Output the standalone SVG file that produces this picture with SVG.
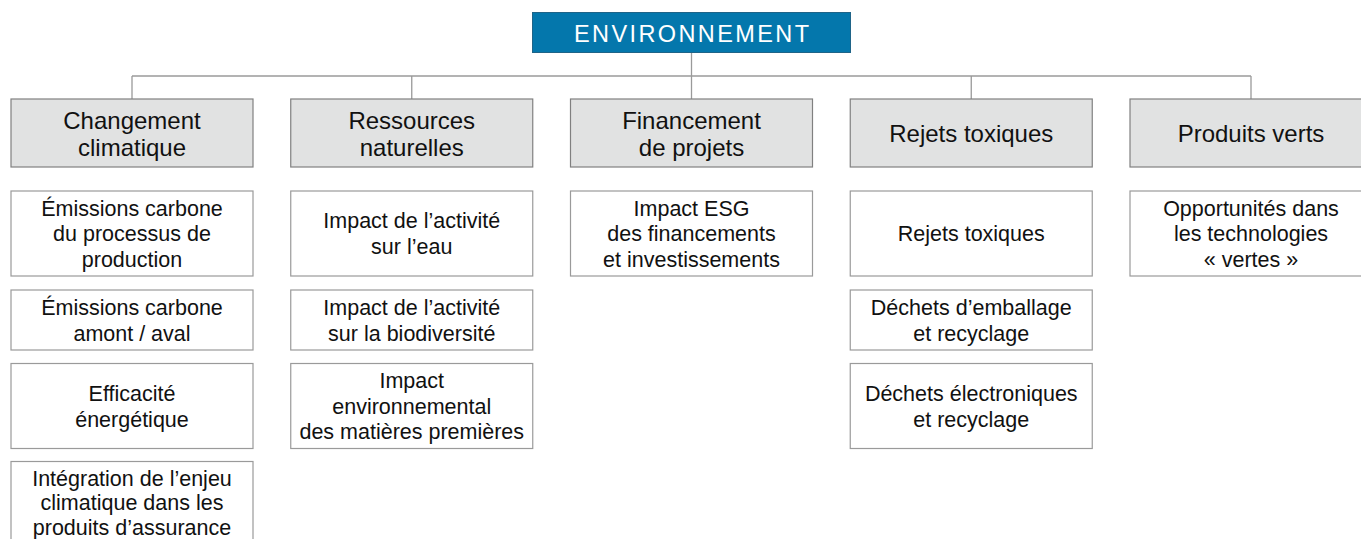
<svg xmlns="http://www.w3.org/2000/svg" width="1361" height="539" viewBox="0 0 1361 539">
<style>
.root{fill:#0477ac;stroke:#1f6488;stroke-width:1}
.cat{fill:#e1e2e2;stroke:#808080;stroke-width:1.2}
.item{fill:#ffffff;stroke:#9a9a9a;stroke-width:1.2}
.conn{fill:none;stroke:#9a9a9a;stroke-width:1.3}
text{font-family:"Liberation Sans",Arial,Helvetica,sans-serif;text-anchor:middle;fill:#111111}
.rt{font-size:23.5px;fill:#ffffff;letter-spacing:2.4px}
.ct{font-size:24px}
.it{font-size:21.5px}
</style>
<rect width="1361" height="539" fill="#ffffff"/>
<g id="connectors">
<path class="conn" d="M691.5 53V76M132 76H1251M132 76V99M411.75 76V99M691.5 76V99M971.25 76V99M1251 76V99"/>
</g>
<g id="root">
<rect class="root" x="532.5" y="12.5" width="318" height="40"/>
<text class="rt" x="692.7" y="41.7">ENVIRONNEMENT</text>
</g>
<g id="cat-changement">
<rect class="cat" x="11" y="99" width="242" height="68"/>
<text class="ct" x="132" y="128.5">Changement</text>
<text class="ct" x="132" y="156">climatique</text>
</g>
<g id="cat-ressources">
<rect class="cat" x="290.75" y="99" width="242" height="68"/>
<text class="ct" x="411.75" y="128.5">Ressources</text>
<text class="ct" x="411.75" y="156">naturelles</text>
</g>
<g id="cat-financement">
<rect class="cat" x="570.5" y="99" width="242" height="68"/>
<text class="ct" x="691.5" y="128.5">Financement</text>
<text class="ct" x="691.5" y="156">de projets</text>
</g>
<g id="cat-rejets">
<rect class="cat" x="850.25" y="99" width="242" height="68"/>
<text class="ct" x="971.25" y="141.7">Rejets toxiques</text>
</g>
<g id="cat-produits">
<rect class="cat" x="1130" y="99" width="242" height="68"/>
<text class="ct" x="1251" y="141.7">Produits verts</text>
</g>
<g id="c1-1">
<rect class="item" x="11" y="191" width="242" height="85"/>
<text class="it" x="132" y="215.5">Émissions carbone</text>
<text class="it" x="132" y="241">du processus de</text>
<text class="it" x="132" y="266.5">production</text>
</g>
<g id="c1-2">
<rect class="item" x="11" y="290" width="242" height="60"/>
<text class="it" x="132" y="315">Émissions carbone</text>
<text class="it" x="132" y="340.5">amont / aval</text>
</g>
<g id="c1-3">
<rect class="item" x="11" y="363.5" width="242" height="85"/>
<text class="it" x="132" y="401">Efficacité</text>
<text class="it" x="132" y="426.5">énergétique</text>
</g>
<g id="c1-4">
<rect class="item" x="11" y="461.5" width="242" height="85"/>
<text class="it" x="132" y="485.5">Intégration de l’enjeu</text>
<text class="it" x="132" y="510">climatique dans les</text>
<text class="it" x="132" y="534.5">produits d’assurance</text>
</g>
<g id="c2-1">
<rect class="item" x="290.75" y="191" width="242" height="85"/>
<text class="it" x="411.75" y="228.3">Impact de l’activité</text>
<text class="it" x="411.75" y="254">sur l’eau</text>
</g>
<g id="c2-2">
<rect class="item" x="290.75" y="290" width="242" height="60"/>
<text class="it" x="411.75" y="315">Impact de l’activité</text>
<text class="it" x="411.75" y="340.5">sur la biodiversité</text>
</g>
<g id="c2-3">
<rect class="item" x="290.75" y="363.5" width="242" height="85"/>
<text class="it" x="411.75" y="388.3">Impact</text>
<text class="it" x="411.75" y="413.5">environnemental</text>
<text class="it" x="411.75" y="438.7">des matières premières</text>
</g>
<g id="c3-1">
<rect class="item" x="570.5" y="191" width="242" height="85"/>
<text class="it" x="691.5" y="215.5">Impact ESG</text>
<text class="it" x="691.5" y="241">des financements</text>
<text class="it" x="691.5" y="266.5">et investissements</text>
</g>
<g id="c4-1">
<rect class="item" x="850.25" y="191" width="242" height="85"/>
<text class="it" x="971.25" y="241">Rejets toxiques</text>
</g>
<g id="c4-2">
<rect class="item" x="850.25" y="290" width="242" height="60"/>
<text class="it" x="971.25" y="315">Déchets d’emballage</text>
<text class="it" x="971.25" y="340.5">et recyclage</text>
</g>
<g id="c4-3">
<rect class="item" x="850.25" y="363.5" width="242" height="85"/>
<text class="it" x="971.25" y="401">Déchets électroniques</text>
<text class="it" x="971.25" y="426.5">et recyclage</text>
</g>
<g id="c5-1">
<rect class="item" x="1130" y="191" width="242" height="85"/>
<text class="it" x="1251" y="215.5">Opportunités dans</text>
<text class="it" x="1251" y="241">les technologies</text>
<text class="it" x="1251" y="266.5">« vertes »</text>
</g>
</svg>
